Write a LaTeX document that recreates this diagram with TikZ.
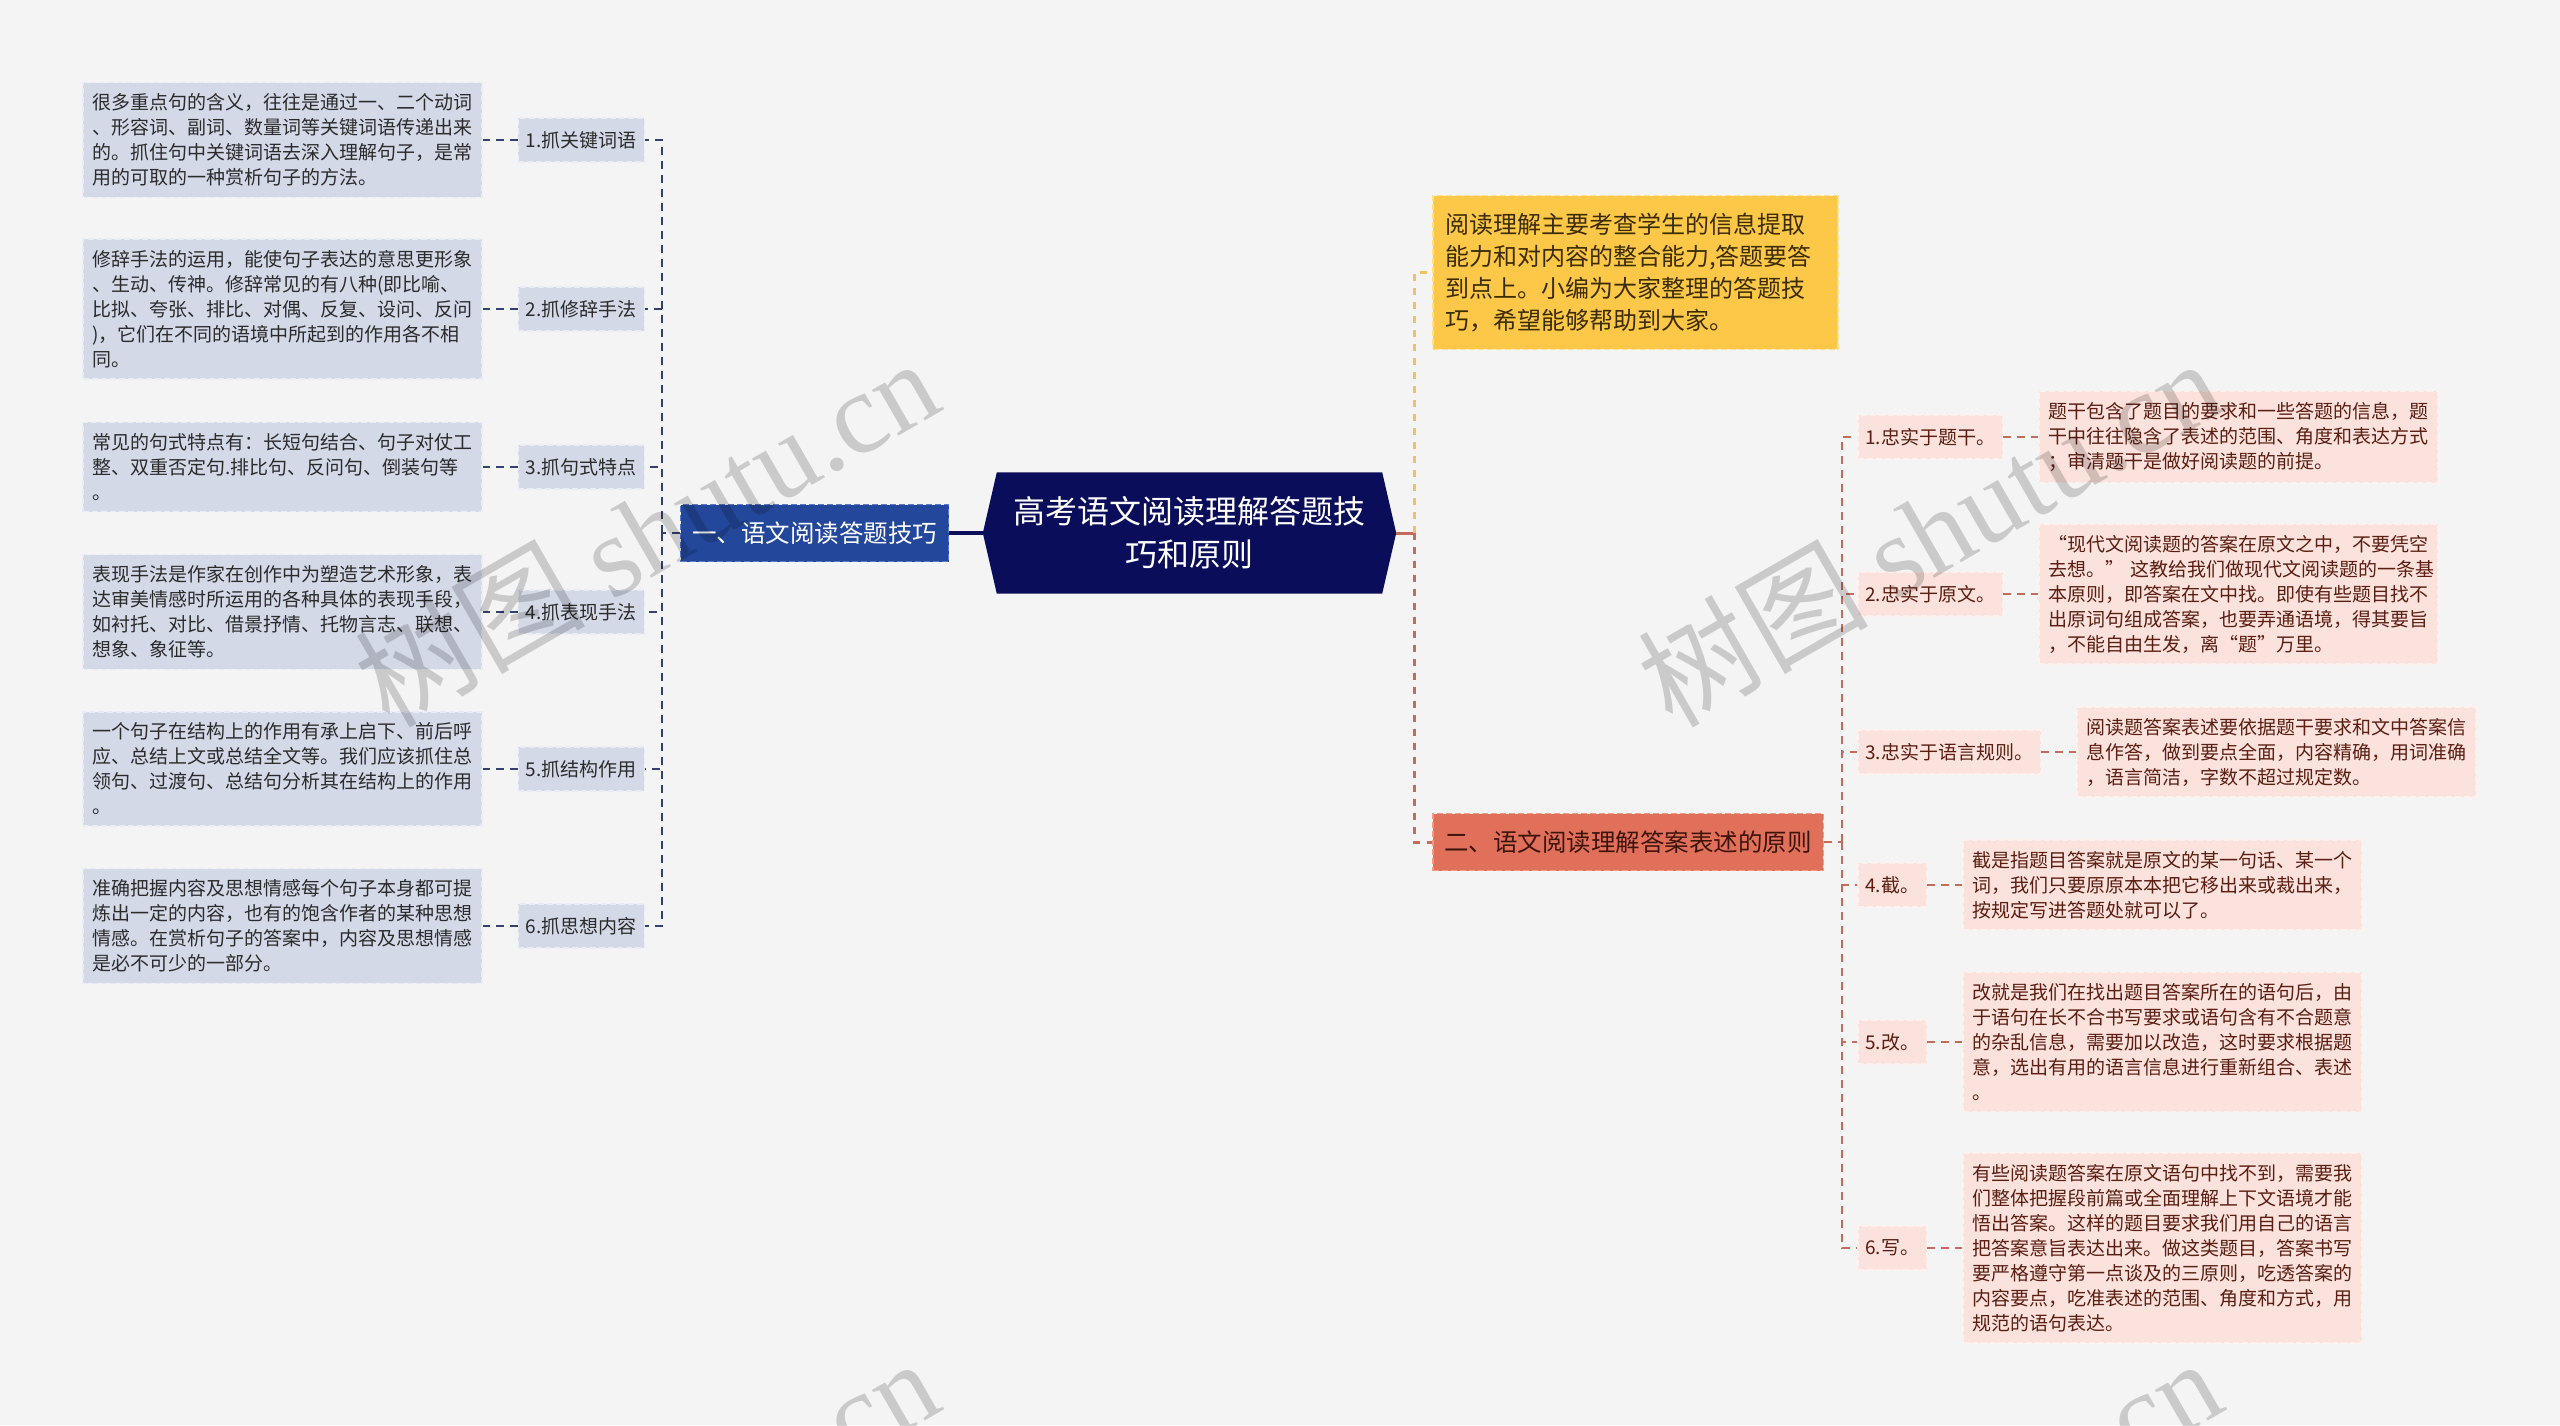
\documentclass[tikz,border=0pt]{standalone}
\usepackage{fontspec}
\setmainfont{Noto Sans CJK SC}
\newfontfamily\wmfont{Liberation Serif}
\usetikzlibrary{positioning, backgrounds}
\definecolor{bgc}{HTML}{F4F4F4}
\definecolor{lfill}{HTML}{D4D9E8}
\definecolor{lbd}{HTML}{E9ECF4}
\definecolor{lline}{HTML}{34406E}
\definecolor{ltext}{HTML}{2B2B2B}
\definecolor{bluefill}{HTML}{23479A}
\definecolor{bluebd}{HTML}{5A7AC6}
\definecolor{rootc}{HTML}{0A0E5A}
\definecolor{yfill}{HTML}{FDC748}
\definecolor{ybd}{HTML}{FFE08F}
\definecolor{ytext}{HTML}{3A2C05}
\definecolor{redfill}{HTML}{E1705A}
\definecolor{redbd}{HTML}{F29A88}
\definecolor{redtext}{HTML}{3D140C}
\definecolor{pfill}{HTML}{FBE2DC}
\definecolor{pbd}{HTML}{FEF1EE}
\definecolor{ptext}{HTML}{5A1E12}
\definecolor{pline}{HTML}{C66A5C}
\definecolor{yline}{HTML}{F2C35A}
\setlength{\parindent}{0pt}

\begin{document}
\begin{tikzpicture}[x=1pt, y=-1pt,
    bdash/.style={dash pattern=on 6pt off 3pt, line width=1.5pt},
    detl/.style={bdash, draw=lbd, fill=lfill, text=ltext, text width=380pt, inner xsep=9.5pt, inner ysep=11pt, align=left, font=\fontsize{19}{25}\selectfont},
    labl/.style={bdash, draw=lbd, fill=lfill, text=ltext, minimum height=44pt, inner xsep=7.5pt, font=\fontsize{19}{25}\selectfont},
    detr/.style={detl, draw=pbd, fill=pfill, text=ptext},
    labr/.style={labl, draw=pbd, fill=pfill, text=ptext},
    rootbox/.style={text=white, minimum width=413pt, minimum height=121pt, align=center, font=\fontsize{32}{43}\selectfont},
    branch/.style={bdash, minimum height=57pt, inner xsep=11.5pt, font=\fontsize{24.5}{30}\selectfont},
    lconn/.style={draw=lline, line width=2pt, dash pattern=on 8pt off 6pt},
    rconn/.style={draw=pline, line width=2.5pt, dash pattern=on 8pt off 6pt},
    wmark/.style={rotate=30, text=black, text opacity=0.17, font=\fontsize{115}{115}\selectfont}
]
\useasboundingbox (0,0) rectangle (2560,1425);
\begin{scope}[on background layer]
    \fill[bgc] (0,0) rectangle (2560,1425);
\end{scope}

% centre
\node[rootbox] (root) at (1189.5,533) {高考语文阅读理解答题技\\巧和原则};
\begin{scope}[on background layer]
    \fill[rootc] (root.west) -- ([xshift=14pt]root.north west) -- ([xshift=-14pt]root.north east)
        -- (root.east) -- ([xshift=-14pt]root.south east) -- ([xshift=14pt]root.south west) -- cycle;
\end{scope}

% left branch
\node[branch, draw=bluebd, fill=bluefill, text=white] (b1) at (814.5,533) {一、语文阅读答题技巧};

\node[labl, anchor=east] (l1) at (645,140) {1.抓关键词语};
\node[labl, anchor=east] (l2) at (645,309) {2.抓修辞手法};
\node[labl, anchor=east] (l3) at (645,467) {3.抓句式特点};
\node[labl, anchor=east] (l4) at (645,612) {4.抓表现手法};
\node[labl, anchor=east] (l5) at (645,769) {5.抓结构作用};
\node[labl, anchor=east] (l6) at (645,926) {6.抓思想内容};

\node[detl, left=35pt of l1] (d1) {很多重点句的含义，往往是通过一、二个动词\\、形容词、副词、数量词等关键词语传递出来\\的。抓住句中关键词语去深入理解句子，是常\\用的可取的一种赏析句子的方法。};
\node[detl, left=35pt of l2] (d2) {修辞手法的运用，能使句子表达的意思更形象\\、生动、传神。修辞常见的有八种(即比喻、\\比拟、夸张、排比、对偶、反复、设问、反问\\)，它们在不同的语境中所起到的作用各不相\\同。};
\node[detl, left=35pt of l3] (d3) {常见的句式特点有：长短句结合、句子对仗工\\整、双重否定句.排比句、反问句、倒装句等\\。};
\node[detl, left=35pt of l4] (d4) {表现手法是作家在创作中为塑造艺术形象，表\\达审美情感时所运用的各种具体的表现手段，\\如衬托、对比、借景抒情、托物言志、联想、\\想象、象征等。};
\node[detl, left=35pt of l5] (d5) {一个句子在结构上的作用有承上启下、前后呼\\应、总结上文或总结全文等。我们应该抓住总\\领句、过渡句、总结句分析其在结构上的作用\\。};
\node[detl, left=35pt of l6] (d6) {准确把握内容及思想情感每个句子本身都可提\\炼出一定的内容，也有的饱含作者的某种思想\\情感。在赏析句子的答案中，内容及思想情感\\是必不可少的一部分。};

% right side
\node[bdash, draw=ybd, fill=yfill, text=ytext, anchor=west, text width=380pt, inner xsep=12.5pt, inner ysep=17.5pt, align=left, font=\fontsize{24}{32}\selectfont] (intro) at (1432,272.5) {阅读理解主要考查学生的信息提取\\能力和对内容的整合能力,答题要答\\到点上。小编为大家整理的答题技\\巧，希望能够帮助到大家。};
\node[branch, draw=redbd, fill=redfill, text=redtext, anchor=west] (b2) at (1432,842) {二、语文阅读理解答案表述的原则};

\node[labr, anchor=west] (r1) at (1857,437) {1.忠实于题干。};
\node[labr, anchor=west] (r2) at (1857,594) {2.忠实于原文。};
\node[labr, anchor=west] (r3) at (1857,752) {3.忠实于语言规则。};
\node[labr, anchor=west] (r4) at (1857,885) {4.截。};
\node[labr, anchor=west] (r5) at (1857,1042) {5.改。};
\node[labr, anchor=west] (r6) at (1857,1248) {6.写。};

\node[detr, right=35pt of r1] (e1) {题干包含了题目的要求和一些答题的信息，题\\干中往往隐含了表述的范围、角度和表达方式\\；审清题干是做好阅读题的前提。};
\node[detr, right=35pt of r2] (e2) {“现代文阅读题的答案在原文之中，不要凭空\\去想。” 这教给我们做现代文阅读题的一条基\\本原则，即答案在文中找。即使有些题目找不\\出原词句组成答案，也要弄通语境，得其要旨\\，不能自由生发，离“题”万里。};
\node[detr, right=35pt of r3] (e3) {阅读题答案表述要依据题干要求和文中答案信\\息作答，做到要点全面，内容精确，用词准确\\，语言简洁，字数不超过规定数。};
\node[detr, right=35pt of r4] (e4) {截是指题目答案就是原文的某一句话、某一个\\词，我们只要原原本本把它移出来或裁出来，\\按规定写进答题处就可以了。};
\node[detr, right=35pt of r5] (e5) {改就是我们在找出题目答案所在的语句后，由\\于语句在长不合书写要求或语句含有不合题意\\的杂乱信息，需要加以改造，这时要求根据题\\意，选出有用的语言信息进行重新组合、表述\\。};
\node[detr, right=35pt of r6] (e6) {有些阅读题答案在原文语句中找不到，需要我\\们整体把握段前篇或全面理解上下文语境才能\\悟出答案。这样的题目要求我们用自己的语言\\把答案意旨表达出来。做这类题目，答案书写\\要严格遵守第一点谈及的三原则，吃透答案的\\内容要点，吃准表述的范围、角度和方式，用\\规范的语句表达。};

% connectors
\draw[rootc, line width=4pt] (root.west) -- (b1.east);
\draw[lconn] (b1.west) -- ++(-18,0) coordinate (jl);
\foreach \i in {1,...,6} {
    \draw[lconn] (jl) |- (l\i.east);
    \draw[lconn] (l\i.west) -- (d\i.east);
}
\draw[pline, line width=3pt] (root.east) -- ++(18,0) coordinate (jr);
\draw[yline, line width=3pt, dash pattern=on 7pt off 7pt] (jr) |- (intro.west);
\draw[rconn, line width=3pt, dash pattern=on 7pt off 7pt] (jr) |- (b2.west);
\draw[rconn] (b2.east) -- ++(18,0) coordinate (jb);
\foreach \i in {1,...,6} {
    \draw[rconn] (jb) |- (r\i.west);
    \draw[rconn] (r\i.east) -- (e\i.west);
}

% watermark
\begin{scope}
    \clip (0,0) rectangle (2560,1425);
    \foreach \wx/\wy [count=\k] in {646/531, 1929/531, 646/1531, 1929/1531}
        \node[wmark] (wm\k) at (\wx,\wy) {树图 {\wmfont shutu.cn}};
\end{scope}
\end{tikzpicture}
\end{document}
